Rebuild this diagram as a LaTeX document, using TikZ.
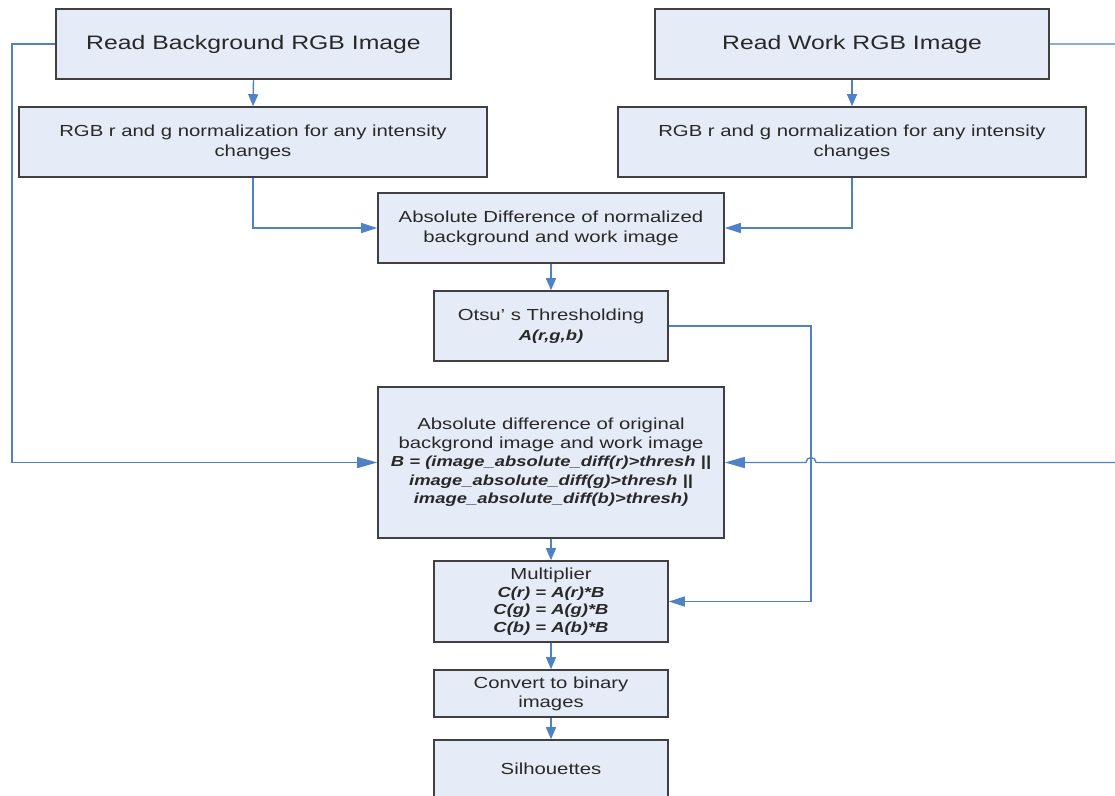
\documentclass[tikz,border=0pt]{standalone}
\usepackage{fontspec}
\setmainfont[FakeStretch=1.27]{Liberation Sans}
\usetikzlibrary{arrows.meta}
\definecolor{boxfill}{RGB}{230,236,247}
\definecolor{boxline}{RGB}{64,64,64}
\definecolor{connc}{RGB}{79,129,199}
\definecolor{txt}{RGB}{40,40,40}
\newcommand{\bi}[1]{{\fontsize{14.5}{18}\selectfont\textbf{\textit{#1}}}}
\begin{document}
\begin{tikzpicture}[x=1pt,y=-1pt,
  box/.style={draw=boxline,fill=boxfill,line width=1.6pt,align=center,inner sep=0pt,
    text=txt,font=\fontsize{16}{20}\selectfont},
  conn/.style={draw=connc,line width=1.4pt,-{Triangle[length=12pt,width=10pt]}},
  connl/.style={draw=connc,line width=1.4pt,-{Triangle[length=16pt,width=10pt]}},
  connxl/.style={draw=connc,line width=1.4pt,-{Triangle[length=20pt,width=11pt]}}]
\useasboundingbox (0,0) rectangle (1115,795);
\clip (0,0) rectangle (1115,795);
\node[box,minimum width=395pt,minimum height=70pt,font=\fontsize{19.5}{23}\selectfont] (b1) at (253.5,44) {Read Background RGB Image};
\node[box,minimum width=394pt,minimum height=70pt,font=\fontsize{19.5}{23}\selectfont] (b2) at (852,44) {Read Work RGB Image};
\node[box,minimum width=468pt,minimum height=70pt] (b3) at (253,142) {RGB r and g normalization for any intensity\\changes};
\node[box,minimum width=468pt,minimum height=70pt] (b4) at (852,142) {RGB r and g normalization for any intensity\\changes};
\node[box,minimum width=346pt,minimum height=70pt] (b5) at (551,228) {Absolute Difference of normalized\\background and work image};
\node[box,minimum width=234pt,minimum height=70pt] (b6) at (551,326) {Otsu’ s Thresholding\\\bi{A(r,g,b)}};
\node[box,minimum width=346pt,minimum height=151pt,font=\fontsize{16}{18.5}\selectfont] (b7) at (551,462.5) {Absolute difference of original\\backgrond image and work image\\\bi{B = (image\_absolute\_diff(r)>thresh ||}\\\bi{image\_absolute\_diff(g)>thresh ||}\\\bi{image\_absolute\_diff(b)>thresh)}};
\node[box,minimum width=234pt,minimum height=81pt,font=\fontsize{16}{17.6}\selectfont] (b8) at (551,601.5) {Multiplier\\\bi{C(r) = A(r)*B}\\\bi{C(g) = A(g)*B}\\\bi{C(b) = A(b)*B}};
\node[box,minimum width=234pt,minimum height=47pt,font=\fontsize{16}{19}\selectfont] (b9) at (551,693.5) {Convert to binary\\images};
\node[box,minimum width=234pt,minimum height=57pt] (b10) at (551,768.5) {Silhouettes};
\coordinate (lc) at (12,44);
\coordinate (oc) at (811,326);
\coordinate (rc1) at (1130,44);
\coordinate (rc2) at (1130,462.5);
\coordinate (hop) at (816,462.5);
\draw[conn] (b1.south) -- (b3.north);
\draw[conn] (b2.south) -- (b4.north);
\draw[connl] (b3.south) |- (b5.west);
\draw[connl] (b4.south) |- (b5.east);
\draw[conn] (b5.south) -- (b6.north);
\draw[conn] (b7.south) -- (b8.north);
\draw[conn] (b8.south) -- (b9.north);
\draw[conn] (b9.south) -- (b10.north);
\draw[connxl] (b1.west) -- (lc) |- (b7.west);
\draw[connl] (b6.east) -- (oc) |- (b8.east);
\draw[connxl] (b2.east) -- (rc1) -- (rc2) -- (hop) arc[start angle=0,end angle=180,radius=5pt] -- (b7.east);
\end{tikzpicture}
\end{document}
